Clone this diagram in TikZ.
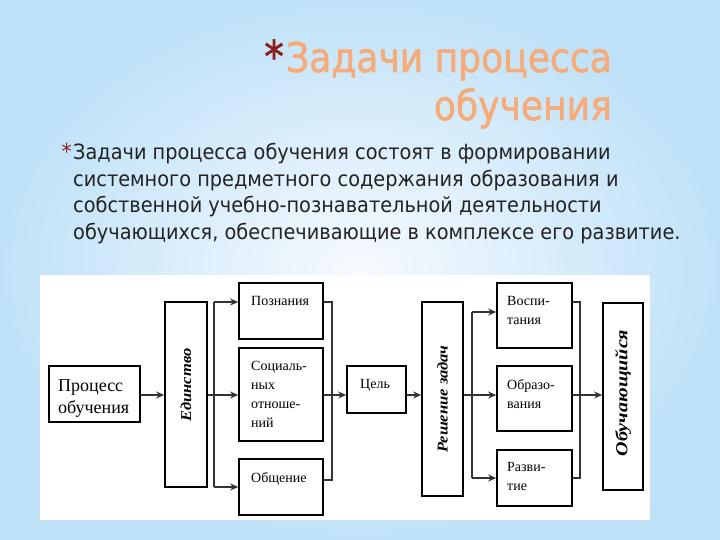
\documentclass[tikz,border=0pt]{standalone}
\usepackage{fontspec}
\setmainfont{Liberation Serif}
\newfontfamily\titlefont[FakeStretch=0.88, FakeBold=1.5]{DejaVu Sans}
\newfontfamily\slidefont[FakeStretch=0.92]{DejaVu Sans}
\usetikzlibrary{arrows.meta}

\definecolor{titleorange}{RGB}{246,172,122}
\definecolor{starred}{RGB}{140,30,30}
\definecolor{bodygrey}{RGB}{35,35,35}
\definecolor{bgblue}{RGB}{192,226,248}
\definecolor{bglight}{RGB}{246,250,254}

\begin{document}
\begin{tikzpicture}[x=1pt, y=-1pt]
        \tikzstyle{box} = [draw, line width=1.6pt, inner sep=0pt]
        \tikzstyle{wire} = [line width=1.5pt, draw=black!80]
        \tikzstyle{pointer} = [-{Stealth[length=8pt, width=7pt]}, line width=1.5pt, draw=black!80]
        \tikzstyle{boxtext} = [anchor=base west, align=left, inner sep=0pt, font=\fontsize{14}{19}\selectfont]
        \tikzstyle{sidetext} = [rotate=90, inner sep=0pt, font=\fontsize{15}{16}\selectfont\bfseries\itshape]
        \tikzstyle{slide} = [anchor=base west, inner sep=0pt, text=bodygrey, font=\slidefont\fontsize{21}{26}\selectfont]
        % background and white panel
        \shade[inner color=bglight, outer color=bgblue] (0,0) rectangle (720,540);
        \useasboundingbox (0,0) rectangle (720,540);
        \fill[white] (40,275) rectangle (650,520);
        % title
        \node[anchor=base east, inner sep=0pt, text=titleorange, font=\titlefont\fontsize{41}{48}\selectfont] (title1) at (612,72) {Задачи процесса};
        \node[anchor=base east, inner sep=0pt, text=titleorange, font=\titlefont\fontsize{41}{48}\selectfont] (title2) at (612,120) {обучения};
        \node[anchor=base east, inner sep=0pt, text=starred, font=\titlefont\fontsize{44}{44}\selectfont] (star1) at ([xshift=-2pt]title1.base west) {*};
        % text
        \node[slide] (body1) at (73,160) {Задачи процесса обучения состоят в формировании};
        \node[slide] (body2) at (73,186.5) {системного предметного содержания образования и};
        \node[slide] (body3) at (73,213) {собственной учебно-познавательной деятельности};
        \node[slide] (body4) at (73,239.5) {обучающихся, обеспечивающие в комплексе его развитие.};
        \node[anchor=base east, inner sep=0pt, text=starred, font=\slidefont\fontsize{22}{22}\selectfont] (star2) at ([xshift=-1pt]body1.base west) {*};
        % boxes
        \node[box, minimum width=91, minimum height=56] (proc) at (94.5,394) {};
        \node[box, minimum width=42, minimum height=185] (edin) at (186,394.5) {};
        \node[box, minimum width=84, minimum height=56] (pozn) at (281,311) {};
        \node[box, minimum width=84, minimum height=93] (soc) at (281,394.5) {};
        \node[box, minimum width=84, minimum height=56] (obsh) at (281,487) {};
        \node[box, minimum width=59, minimum height=47] (cel) at (376.5,389.5) {};
        \node[box, minimum width=41, minimum height=194] (resh) at (442.5,399) {};
        \node[box, minimum width=75, minimum height=65] (vosp) at (534.5,315.5) {};
        \node[box, minimum width=75, minimum height=65] (obr) at (534.5,398.5) {};
        \node[box, minimum width=75, minimum height=56] (razv) at (534.5,478) {};
        \node[box, minimum width=40, minimum height=187] (obuch) at (623,396.5) {};
        % box texts (base = last line)
        \node[boxtext, font=\fontsize{18}{22}\selectfont] (proct) at (58,413) {Процесс\\обучения};
        \node[boxtext] (poznt) at (251,305) {Познания};
        \node[boxtext] (soct) at (251,427) {Социаль-\\ных\\отноше-\\ний};
        \node[boxtext] (obsht) at (251,482) {Общение};
        \node[boxtext] (celt) at (360,388) {Цель};
        \node[boxtext] (vospt) at (507,324) {Воспи-\\тания};
        \node[boxtext] (obrt) at (507,408) {Образо-\\вания};
        \node[boxtext] (razvt) at (507,490) {Разви-\\тие};
        \node[sidetext] (edint) at (186,385) {\scalebox{1.1}[1]{Единство}};
        \node[sidetext] (resht) at (442.5,399) {\scalebox{1.1}[1]{Решение задач}};
        \node[sidetext, font=\fontsize{17}{18}\selectfont\bfseries\itshape] (obucht) at (623,393) {\scalebox{1.18}[1]{Обучающийся}};
        % forks and joins
        \coordinate (fork1) at (214,395);
        \coordinate (fork1a) at (214,302);
        \coordinate (fork1b) at (214,487);
        \coordinate (join1) at (332,395);
        \coordinate (join1a) at (332,302);
        \coordinate (join1b) at (332,480);
        \coordinate (fork2) at (472,395);
        \coordinate (fork2a) at (472,312);
        \coordinate (fork2b) at (472,478);
        \coordinate (join2) at (580,395);
        \coordinate (join2a) at (580,302);
        \coordinate (join2b) at (580,478);
        % connectors
        \draw[pointer] (proc.east |- fork1) -- (fork1 -| edin.west);
        \draw[wire] (edin.east |- fork1) -- (fork1);
        \draw[wire] (fork1a) -- (fork1b);
        \draw[pointer] (fork1a) -- (fork1a -| pozn.west);
        \draw[pointer] (fork1) -- (fork1 -| soc.west);
        \draw[pointer] (fork1b) -- (fork1b -| obsh.west);
        \draw[wire] (join1a -| pozn.east) -- (join1a) -- (join1b) -- (join1b -| obsh.east);
        \draw[wire] (soc.east |- join1) -- (join1);
        \draw[pointer] (join1) -- (join1 -| cel.west);
        \draw[pointer] (cel.east |- join1) -- (join1 -| resh.west);
        \draw[wire] (resh.east |- fork2) -- (fork2);
        \draw[wire] (fork2a) -- (fork2b);
        \draw[pointer] (fork2a) -- (fork2a -| vosp.west);
        \draw[pointer] (fork2) -- (fork2 -| obr.west);
        \draw[pointer] (fork2b) -- (fork2b -| razv.west);
        \draw[wire] (join2a -| vosp.east) -- (join2a) -- (join2b) -- (join2b -| razv.east);
        \draw[wire] (obr.east |- join2) -- (join2);
        \draw[pointer] (join2) -- (join2 -| obuch.west);
\end{tikzpicture}
\end{document}
